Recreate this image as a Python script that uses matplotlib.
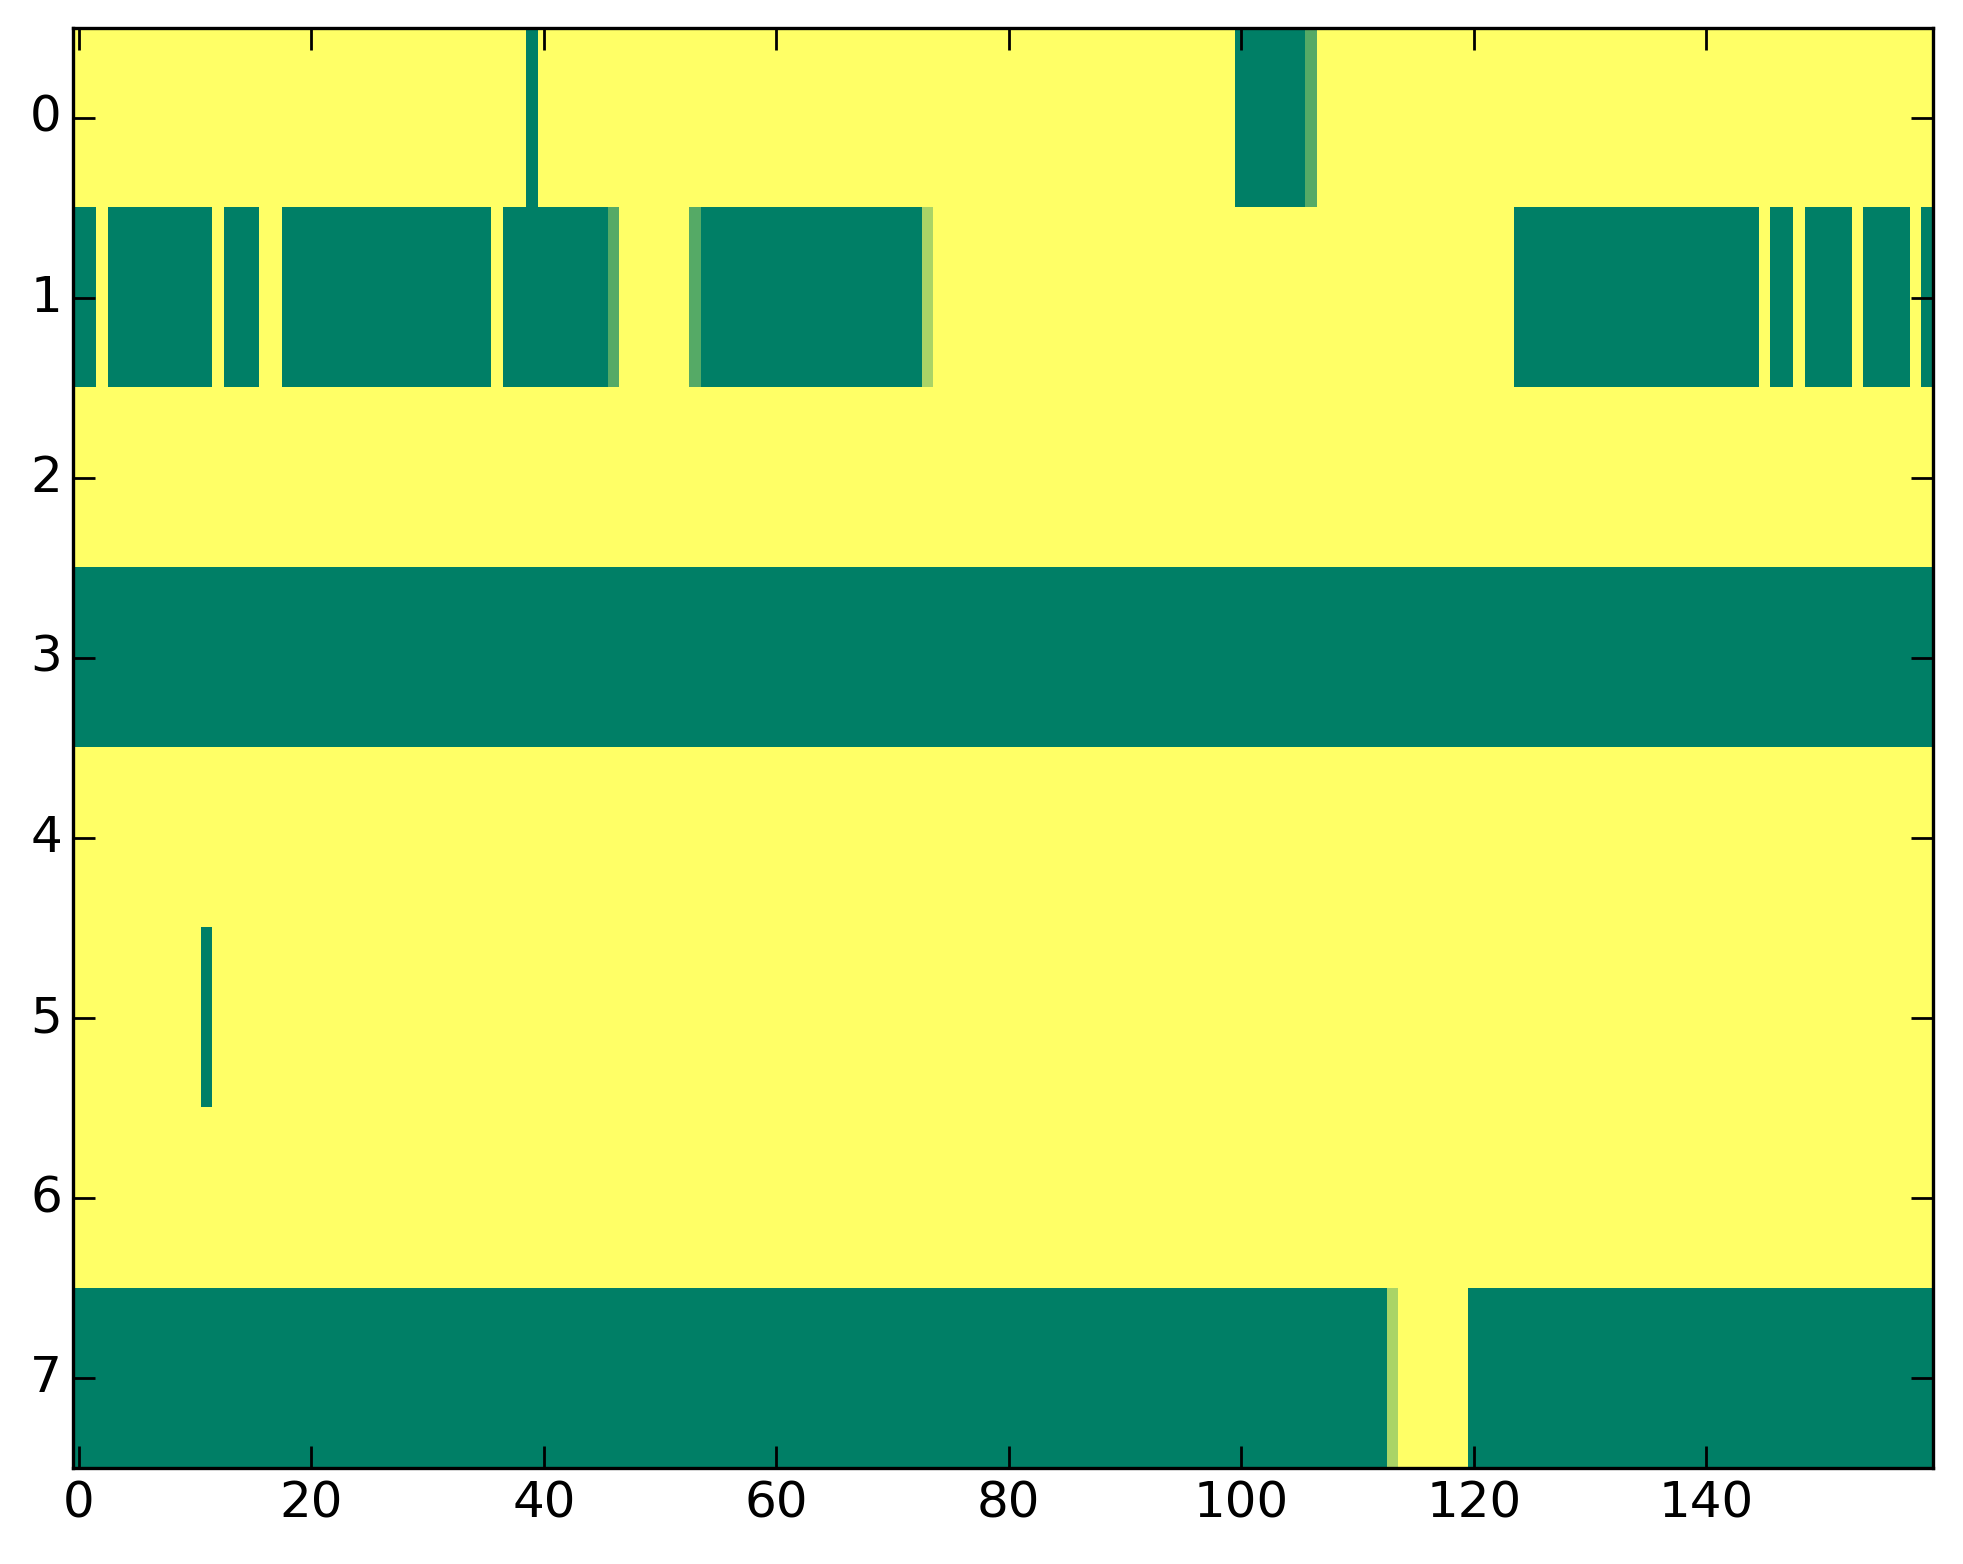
import numpy as np
import matplotlib
matplotlib.use('Agg')
import matplotlib.pyplot as plt

plt.style.use('classic')

# each row as (value, run length) pairs, 160 columns per row
row0 = [(1, 39), (0, 1), (1, 60), (0, 6), (0.333, 1), (1, 53)]
row1 = [(0, 2), (1, 1), (0, 9), (1, 1), (0, 3), (1, 2), (0, 18), (1, 1),
        (0, 9), (0.333, 1), (1, 6), (0.333, 1), (0, 19), (0.667, 1),
        (1, 50), (0, 21), (1, 1), (0, 2), (1, 1), (0, 4), (1, 1), (0, 4),
        (1, 1), (0, 1)]
row2 = [(1, 160)]
row3 = [(0, 160)]
row4 = [(1, 160)]
row5 = [(1, 11), (0, 1), (1, 148)]
row6 = [(1, 160)]
row7 = [(0, 113), (0.667, 1), (1, 6), (0, 40)]

rows = [row0, row1, row2, row3, row4, row5, row6, row7]


def expand(runs):
    vals = []
    for v, n in runs:
        vals += [v] * n
    return vals


data = np.array([expand(r) for r in rows])

fig = plt.figure(figsize=(1963 / 200, 1564 / 200), dpi=200, facecolor='white')
ax = fig.add_axes([0.0372, 0.0612, 0.9475, 0.9212])
ax.imshow(data, cmap='summer', interpolation='nearest', aspect='auto')

ax.set_xticks(range(0, 160, 20))
ax.set_yticks(range(8))
ax.tick_params(labelsize=18, length=8, width=1)
for s in ax.spines.values():
    s.set_linewidth(1.2)

fig.savefig('out.png', dpi=200, facecolor='white')
